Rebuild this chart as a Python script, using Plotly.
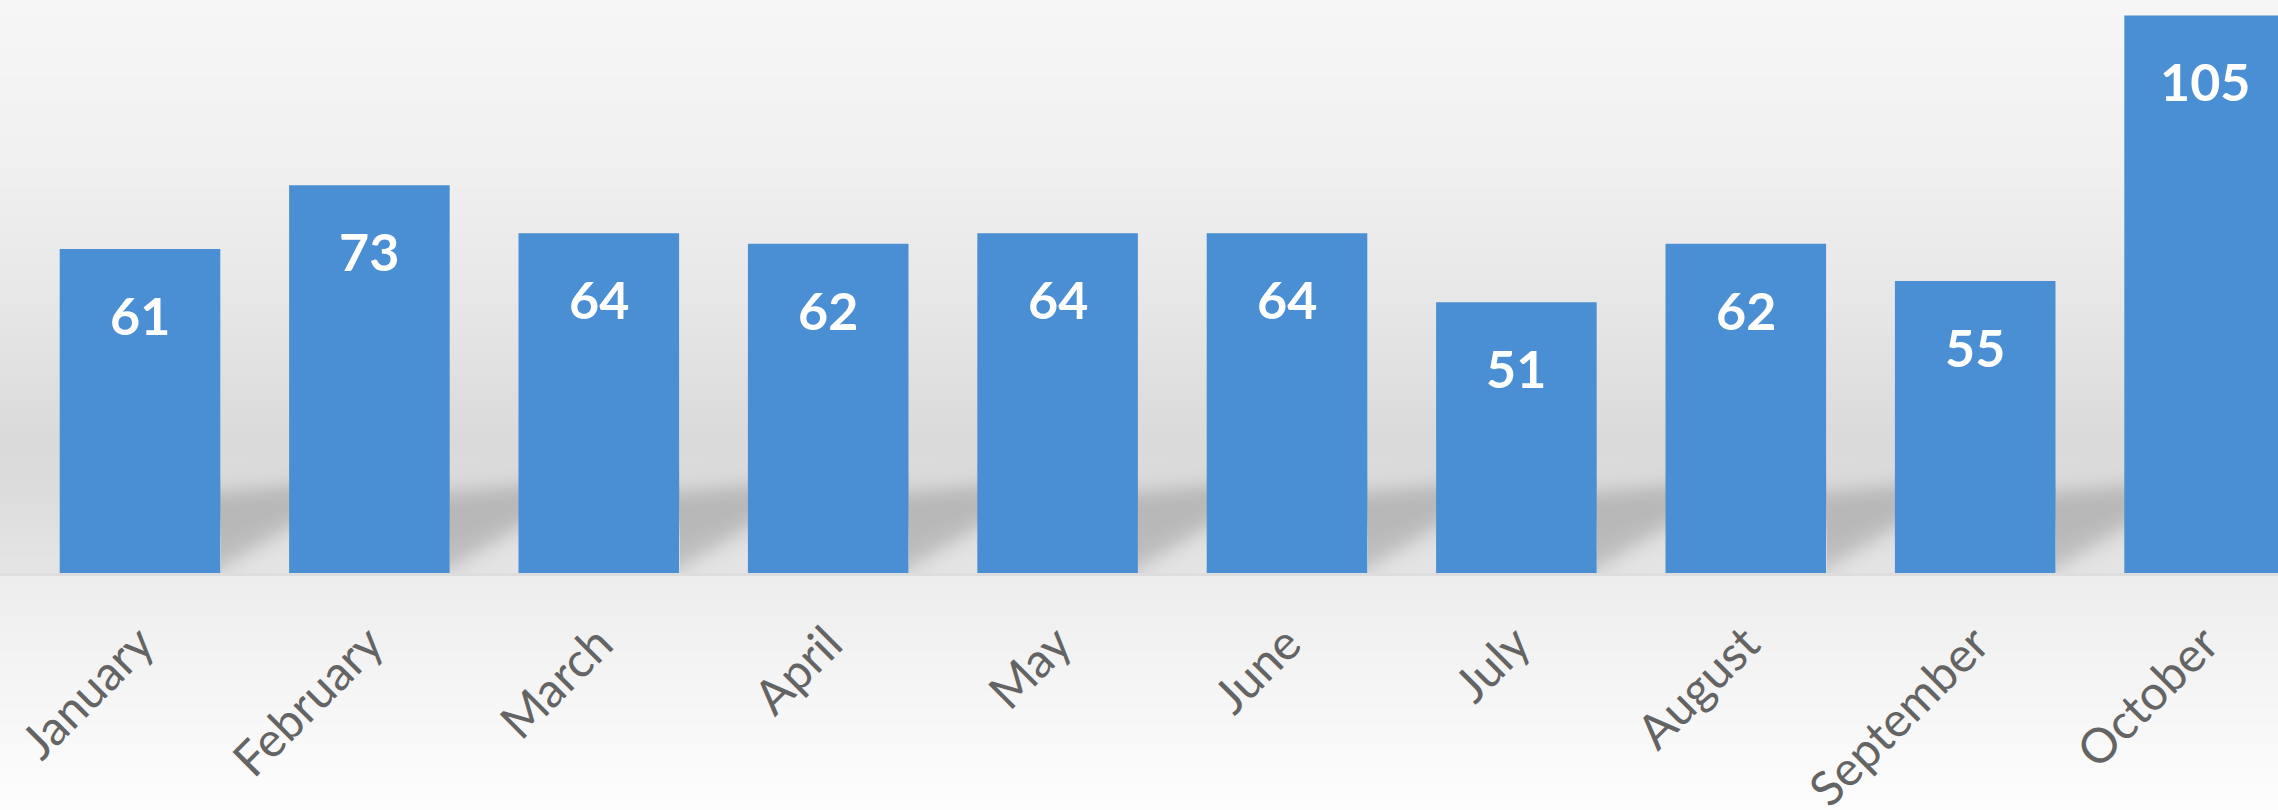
import base64
import struct
import zlib

import numpy as np
import plotly.graph_objects as go

months = ["January", "February", "March", "April", "May", "June",
          "July", "August", "September", "October"]
values = [61, 73, 64, 62, 64, 64, 51, 62, 55, 105]

W, H = 2278, 810
BASE_Y = 573          # pixel row of the bar baseline
SLOT = 229.4          # pixel width of one category slot
FIRST_CENTER = 140    # pixel x of the first category centre
BARGAP = 0.3


def png_gray_uri(img):
    h, w = img.shape
    raw = np.zeros((h, w + 1), dtype=np.uint8)
    raw[:, 1:] = np.clip(np.round(img), 0, 255).astype(np.uint8)

    def chunk(tag, data):
        c = struct.pack(">I", len(data)) + tag + data
        return c + struct.pack(">I", zlib.crc32(tag + data) & 0xffffffff)
    ihdr = struct.pack(">IIBBBBB", w, h, 8, 0, 0, 0, 0)
    png = (b"\x89PNG\r\n\x1a\n" + chunk(b"IHDR", ihdr)
           + chunk(b"IDAT", zlib.compress(raw.tobytes(), 9)) + chunk(b"IEND", b""))
    return "data:image/png;base64," + base64.b64encode(png).decode()


# ---- background decoration (gradient + soft cast shadow between bars) ----
yy = np.arange(H, dtype=float)[:, None]
xx = np.arange(W, dtype=float)[None, :]
stops_y = [0, 150, 300, 440, 490, 560, 572, 576, 700, 809]
stops_g = [246, 241, 231, 218, 220, 228, 228, 237, 246, 253]
bg = np.interp(yy[:, 0], stops_y, stops_g)[:, None] * np.ones((1, W))
bg[BASE_Y:BASE_Y + 3, :] = 221

half_bar = SLOT * (1 - BARGAP) / 2
gap_w = SLOT * BARGAP
t = np.mod(xx - FIRST_CENTER - half_bar, SLOT) / gap_w      # 0..1 across a gap
t = np.clip(t, 0, 1)
top = 492 - 6 * t
bottom = 568 - 42 * t


def sig(z):
    return 1.0 / (1.0 + np.exp(-z))


shadow = 40 * sig((yy - top) / 6.0) * sig((bottom - yy) / 7.0)
shadow *= (xx > FIRST_CENTER)        # no shadow left of the first bar
shadow *= (yy < BASE_Y)
bg = bg - shadow
bg_uri = png_gray_uri(bg)

fig = go.Figure()
fig.add_trace(go.Bar(
    x=months, y=values,
    marker=dict(color="#4a8fd3", line=dict(width=0)),
    hoverinfo="x+y",
))

for m, v in zip(months, values):
    fig.add_annotation(
        x=m, y=v, yshift=-66, yanchor="middle", showarrow=False,
        text=str(v), font=dict(family="Lato", size=52, color="white", weight="bold"),
    )

fig.add_layout_image(dict(
    source=bg_uri, xref="paper", yref="paper", x=0, y=1,
    sizex=1, sizey=H / BASE_Y, sizing="stretch", layer="below",
))

xmin = -FIRST_CENTER / SLOT
xmax = xmin + W / SLOT
fig.update_layout(
    width=W, height=H,
    margin=dict(l=0, r=0, t=0, b=H - BASE_Y, pad=0, autoexpand=False),
    paper_bgcolor="white", plot_bgcolor="rgba(0,0,0,0)",
    bargap=BARGAP, showlegend=False,
    xaxis=dict(
        range=[xmin, xmax], tickangle=-45, showgrid=False, showline=False,
        zeroline=False, ticks="", ticklabelstandoff=32, automargin=False,
        tickfont=dict(family="Lato", size=48, color="#646464"),
    ),
    yaxis=dict(range=[0, BASE_Y / 5.31], visible=False, showgrid=False,
               zeroline=False, automargin=False),
)

fig.write_html(
    "out.html",
    config={"displayModeBar": False},
    post_script=(
        "document.documentElement.style.margin='0';"
        "document.documentElement.style.overflow='hidden';"
        "document.body.style.margin='0';"
        "document.body.style.overflow='hidden';"
        "window.scrollTo(0,0);"
    ),
)
